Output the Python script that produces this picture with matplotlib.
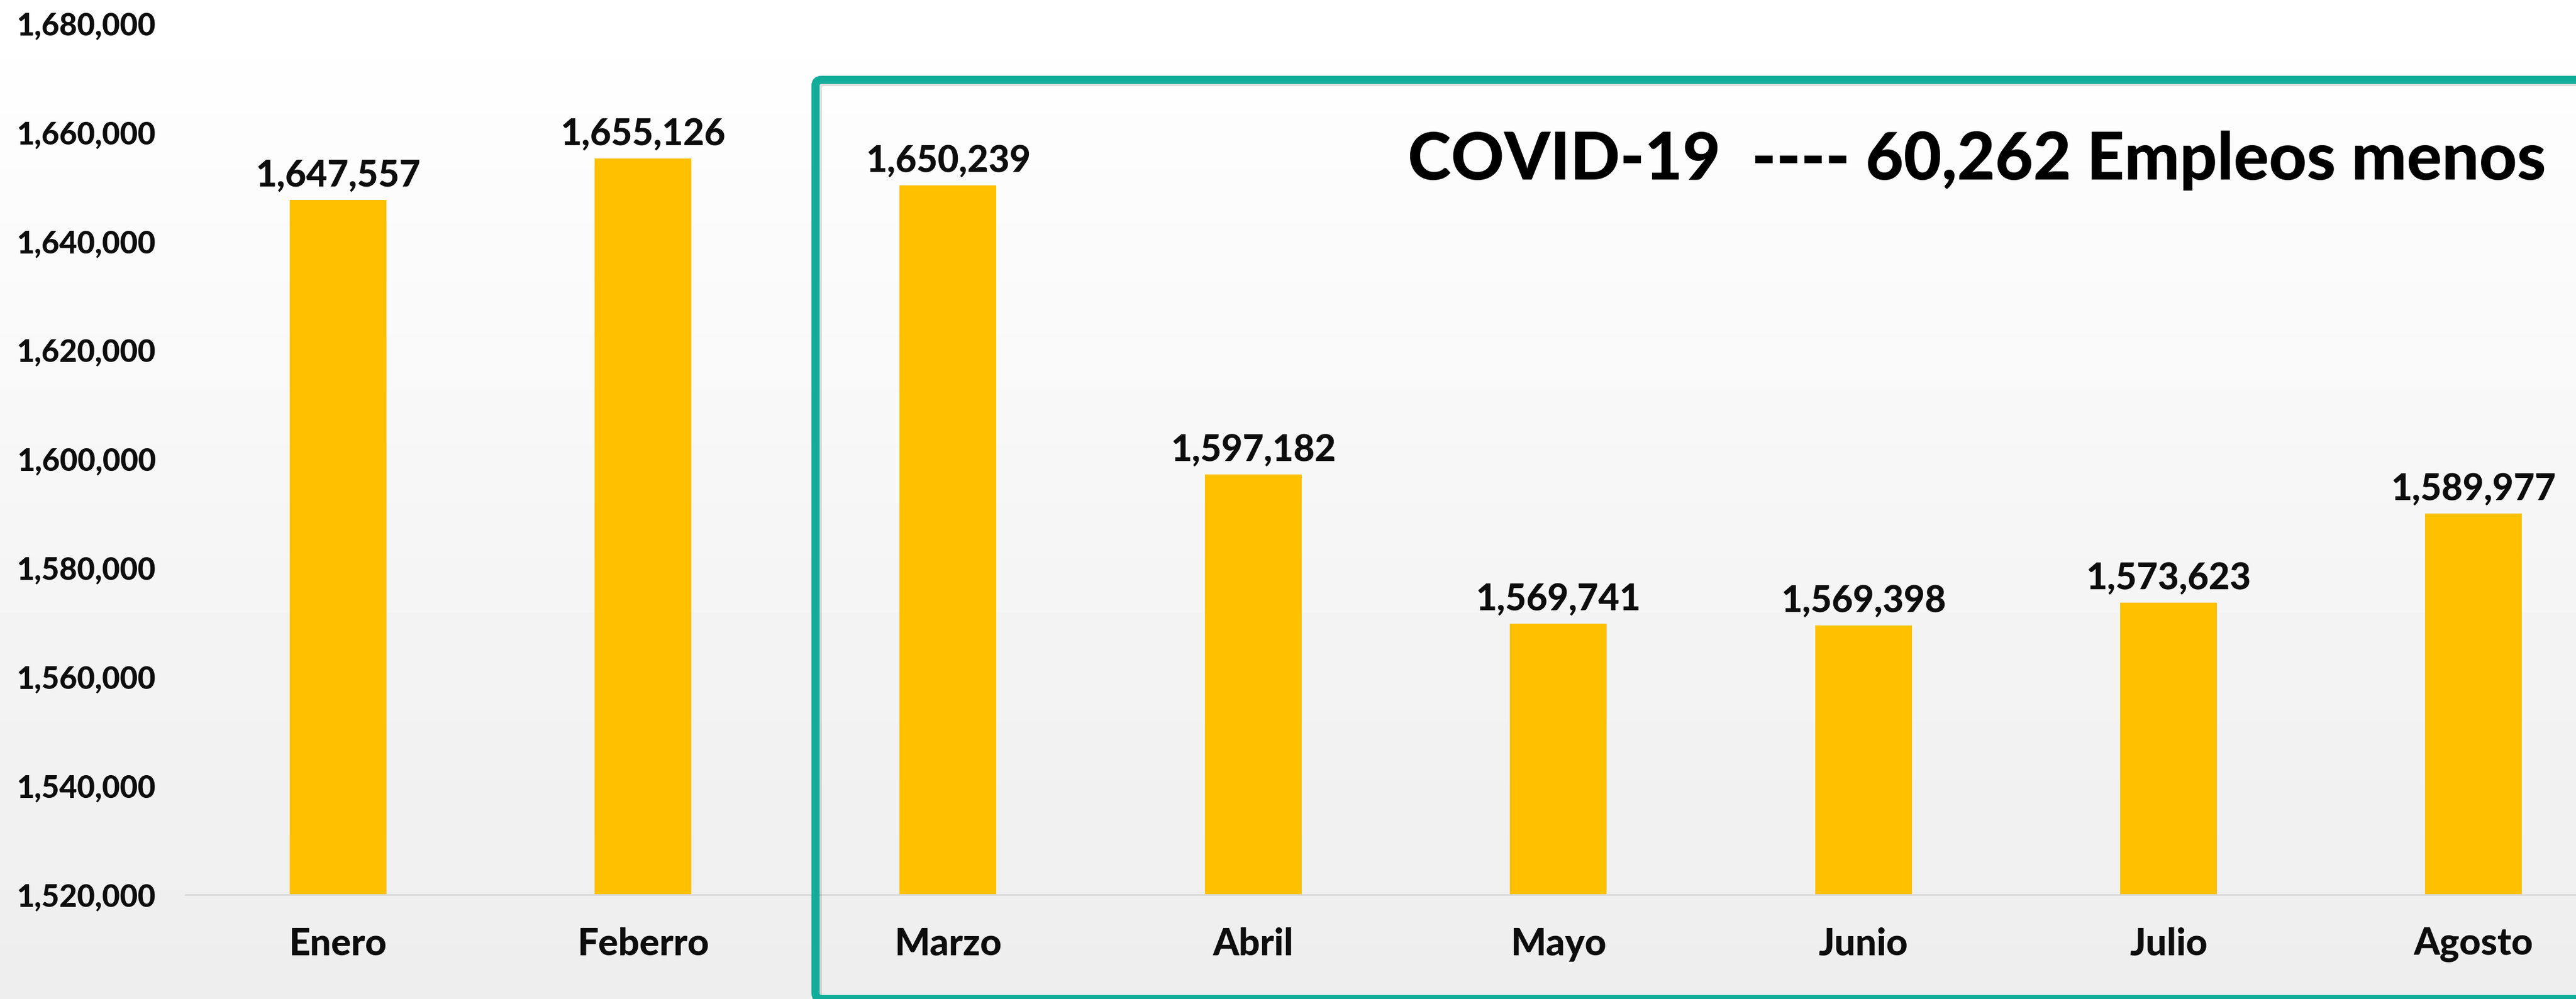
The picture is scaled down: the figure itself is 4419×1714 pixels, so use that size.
import numpy as np
import matplotlib
matplotlib.use('Agg')
import matplotlib.pyplot as plt
from matplotlib.patches import FancyBboxPatch
from matplotlib.transforms import IdentityTransform

# datos
meses = ['Enero', 'Feberro', 'Marzo', 'Abril', 'Mayo', 'Junio', 'Julio', 'Agosto']
empleos = [1647557, 1655126, 1650239, 1597182, 1569741, 1569398, 1573623, 1589977]
yticks = [1520000, 1540000, 1560000, 1580000, 1600000, 1620000, 1640000, 1660000, 1680000]
titulo = 'COVID-19  ---- 60,262 Empleos menos'

plt.rcParams['font.family'] = ['Lato', 'DejaVu Sans']

W, H = 4419, 1714
fig = plt.figure(figsize=(W / 100, H / 100), dpi=100)

# fondo degradado
bg = fig.add_axes([0, 0, 1, 1], zorder=0)
grad = np.linspace(1.0, 0.93, 256).reshape(-1, 1)
bg.imshow(grad, cmap='gray', vmin=0, vmax=1, aspect='auto', extent=[0, 1, 0, 1])
bg.axis('off')

ax = fig.add_axes([318 / W, 1 - 1535 / H, (4505 - 318) / W, (1535 - 40) / H], zorder=1)
ax.patch.set_alpha(0)

x = np.arange(len(meses))
bars = ax.bar(x, empleos, width=0.317, color='#FFC000', zorder=2)
ax.set_ylim(1520000, 1680000)
ax.set_xlim(-0.5, len(meses) - 0.5)

peso = 'black'
for xi, v in zip(x, empleos):
    ax.annotate(f'{v:,}', (xi, v), xytext=(0, 9), textcoords='offset points',
                ha='center', va='bottom', fontsize=45, fontweight=peso, color='#0D0D0D')

ax.set_yticks(yticks)
ax.set_yticklabels([f'{t:,}' for t in yticks], fontsize=38, fontweight=peso, color='#0D0D0D')
ax.set_xticks(x)
ax.set_xticklabels(meses, fontsize=46, fontweight=peso, color='#0D0D0D')
ax.tick_params(axis='y', length=0, pad=36)
ax.tick_params(axis='x', length=0, pad=40)

for s in ['top', 'right', 'left']:
    ax.spines[s].set_visible(False)
ax.spines['bottom'].set_color('#D9D9D9')
ax.spines['bottom'].set_linewidth(2)

# recuadro COVID (lado derecho queda fuera de la imagen)
x0, y0 = 1399, H - 1714
x1, y1 = 4800, H - 137
sombra = FancyBboxPatch((x0 + 4, y0 - 4), x1 - x0, y1 - y0, boxstyle='round,pad=0,rounding_size=10',
                        transform=IdentityTransform(), fill=False, edgecolor='#000000',
                        linewidth=10, alpha=0.12, zorder=3)
fig.add_artist(sombra)
caja = FancyBboxPatch((x0, y0), x1 - x0, y1 - y0, boxstyle='round,pad=0,rounding_size=10',
                      transform=IdentityTransform(), fill=False, edgecolor='#12AC9A',
                      linewidth=10, zorder=4)
fig.add_artist(caja)

fig.text(2415 / W, 1 - 308 / H, titulo, fontsize=81, fontweight=peso, color='black',
         ha='left', va='baseline')

fig.savefig('out.png', dpi=100)
